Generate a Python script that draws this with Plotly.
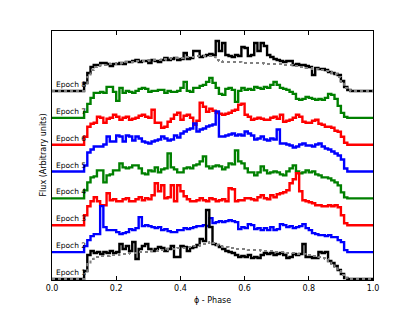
import plotly.graph_objects as go

# Phase bins (left edges), 100 bins of width 0.01
phase = [i / 100 for i in range(101)]

# Flux above each epoch's baseline (arbitrary units), bins 10..91; the rest is 0
pre = [0] * 10
post = [0] * 8

epoch1 = pre + [8,24,28,26,27,25,27,26,28,26,
                27,35,30,33,28,37,20,30,33,35,
                30,28,30,32,31,28,30,33,22,22,
                33,32,28,31,32,34,40,38,69,52,
                35,34,32,30,28,27,26,24,22,23,
                22,24,21,22,21,24,26,25,26,24,
                25,26,24,21,22,25,24,25,35,22,
                22,21,21,27,26,27,18,16,13,9,
                5,1] + post
model1 = pre + [5,15,20,22,22,23,23,23,24,24,
                24,25,25,25,26,26,26,27,27,27,
                28,28,28,29,29,29,30,30,30,31,
                31,31,32,32,33,33,34,35,36,37,
                36,34,33,32,32,31,31,30,30,30,
                30,29,29,29,29,28,28,28,28,27,
                27,27,27,26,26,26,25,25,25,24,
                24,23,23,22,21,20,18,15,12,8,
                4,1] + post
epoch2 = pre + [6,12,16,18,18,46,25,22,22,22,
                20,18,19,20,23,22,24,35,26,27,
                26,25,24,25,22,23,21,20,20,22,
                22,24,23,24,25,26,26,27,26,34,
                29,30,31,30,31,32,31,30,23,25,
                24,28,27,23,24,22,24,22,25,22,
                23,28,27,25,26,24,25,26,28,24,
                22,19,18,17,17,16,17,15,15,12,
                10,2] + post
epoch3 = pre + [10,19,24,28,24,20,20,32,25,26,
                24,24,26,27,24,24,26,28,25,27,
                26,30,42,34,40,27,28,40,24,40,
                34,29,26,24,24,25,27,25,24,27,
                26,24,25,26,24,37,36,24,25,25,
                27,27,26,25,28,30,27,26,30,28,
                31,32,33,35,42,46,52,34,25,24,
                23,22,20,20,19,19,20,19,20,18,
                10,2] + post
epoch4 = pre + [8,16,21,22,28,28,16,23,24,28,
                28,35,31,30,31,33,33,30,25,24,
                28,27,31,26,29,30,45,31,29,26,
                26,30,31,30,33,34,37,42,32,30,
                32,33,32,29,31,35,34,48,37,35,
                30,26,26,23,26,32,28,25,26,27,
                26,24,23,27,30,33,27,25,26,28,
                26,27,24,23,21,21,20,18,16,13,
                6,1] + post
epoch5 = pre + [6,19,22,25,25,25,27,35,30,30,
                36,35,30,36,35,31,35,33,30,29,
                28,30,31,32,35,33,31,32,36,34,
                38,40,42,43,48,40,42,43,45,46,
                47,60,35,35,36,37,38,36,37,36,
                40,38,36,32,33,35,32,31,33,32,
                42,28,28,27,26,24,25,27,28,26,
                26,25,27,28,25,23,22,20,18,16,
                12,3] + post
epoch6 = pre + [8,18,21,22,28,27,22,26,27,30,
                28,25,27,28,25,26,27,29,30,28,
                27,35,22,22,17,18,23,26,30,32,
                25,29,30,27,20,24,42,38,33,36,
                34,32,31,30,31,32,34,35,40,41,
                30,28,25,26,27,26,25,25,27,28,
                26,30,23,24,25,27,30,28,23,22,
                22,24,25,21,20,18,18,17,14,13,
                8,2] + post
epoch7 = pre + [6,14,20,25,25,26,25,31,31,26,
                17,30,25,27,26,25,27,29,30,29,
                26,27,27,28,28,25,27,26,26,27,
                30,36,27,26,30,30,32,33,36,40,
                35,30,24,23,29,30,28,16,27,30,
                28,29,28,31,30,29,31,30,33,36,
                33,30,29,28,26,24,19,18,19,21,
                20,19,18,19,18,20,24,23,19,12,
                5,1] + post
epoch8 = pre + [8,18,24,26,26,28,28,27,25,27,
                27,28,27,29,29,30,31,29,30,30,
                28,31,30,29,31,33,31,32,33,31,
                32,38,32,33,40,40,34,35,36,37,
                36,50,40,48,36,35,34,36,35,44,
                43,35,36,48,40,48,45,36,34,32,
                31,30,29,30,30,26,27,26,26,25,
                24,16,23,22,22,21,19,18,17,16,
                10,4,1] + [0] * 7
model8 = pre + [5,14,21,24,25,26,26,27,27,27,
                28,28,28,29,29,29,30,30,30,30,
                31,31,31,31,32,32,32,33,33,33,
                33,34,34,34,34,35,35,35,35,35,
                34,31,30,29,29,29,29,29,29,28,
                28,28,28,28,28,28,27,27,27,27,
                27,27,26,26,26,25,25,24,24,23,
                23,22,22,21,21,20,19,18,17,14,
                9,3,1] + [0] * 7

epochs = [epoch1, epoch2, epoch3, epoch4, epoch5, epoch6, epoch7, epoch8]
labels = ["Epoch 1", "Epoch 2", "Epoch 3", "Epoch 4",
          "Epoch 5", "Epoch 6", "Epoch 7", "Epoch 8"]
colors = ["#000000", "#0000ff", "#ff0000", "#008000",
          "#0000ff", "#ff0000", "#008000", "#000000"]
spacing = 26.86
offsets = [k * spacing for k in range(8)]
models = {0: model1, 7: model8}

xticks = [0.0, 0.2, 0.4, 0.6, 0.8, 1.0]
xticklabels = ["0.0", "0.2", "0.4", "0.6", "0.8", "1.0"]

fig = go.Figure()
for k in reversed(range(8)):
    vals = [v + offsets[k] for v in epochs[k]]
    vals = vals + [vals[-1]]
    fig.add_trace(go.Scatter(x=phase, y=vals, mode="lines",
                             line=dict(color=colors[k], width=2.4, shape="hv"),
                             showlegend=False, hoverinfo="skip"))
    if k in models:
        mv = [v + offsets[k] for v in models[k]]
        mv = mv + [mv[-1]]
        fig.add_trace(go.Scatter(x=phase, y=mv, mode="lines",
                                 line=dict(color="#808080", width=2, shape="hv", dash="dot"),
                                 showlegend=False, hoverinfo="skip"))

annotations = []
for k in range(8):
    annotations.append(dict(x=0.01, y=offsets[k], xref="x", yref="y", text=labels[k],
                            showarrow=False, xanchor="left", yanchor="bottom",
                            font=dict(family="DejaVu Sans", size=7.5, color="#000000"),
                            borderpad=0, yshift=1))
annotations.append(dict(x=0.5, y=0, xref="paper", yref="paper", text="ϕ - Phase",
                        showarrow=False, xanchor="center", yanchor="top", yshift=-14,
                        font=dict(family="DejaVu Sans", size=8, color="#000000")))
annotations.append(dict(x=0, y=0.5, xref="paper", yref="paper", text="Flux (Arbitrary units)",
                        showarrow=False, xanchor="center", yanchor="middle", xshift=-9,
                        textangle=-90,
                        font=dict(family="DejaVu Sans", size=8, color="#000000")))

# page body adds an 8px margin, so the figure is 8px smaller on each axis
fig.update_layout(
    width=407, height=304,
    margin=dict(l=44, r=42, t=23, b=32),
    paper_bgcolor="white", plot_bgcolor="white",
    font=dict(family="DejaVu Sans", size=8, color="#000000"),
    annotations=annotations,
    xaxis=dict(range=[0, 1], tickvals=xticks, ticktext=xticklabels,
               ticks="inside", ticklen=4, tickcolor="#000000",
               showline=True, linecolor="#000000", linewidth=1, mirror="ticks",
               showgrid=False, zeroline=False,
               tickfont=dict(family="DejaVu Sans", size=8)),
    yaxis=dict(range=[-1, 248], showticklabels=False, ticks="",
               showline=True, linecolor="#000000", linewidth=1, mirror=True,
               showgrid=False, zeroline=False),
)

fig.write_html("out.html")
